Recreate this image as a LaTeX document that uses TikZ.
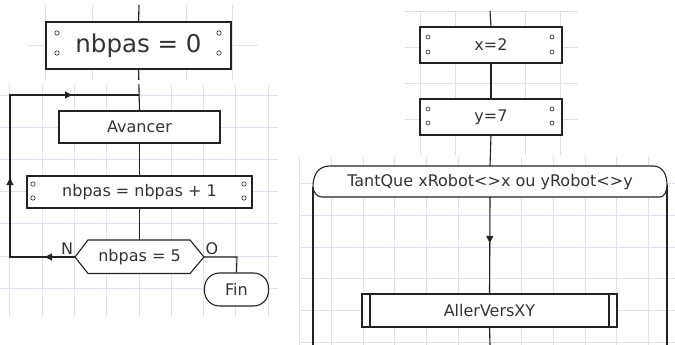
\documentclass[tikz,border=0pt]{standalone}
\usepackage{fontspec}
\setmainfont{DejaVu Sans}
\usetikzlibrary{arrows.meta,decorations.markings}
\definecolor{gridc}{HTML}{E0E0F0}
\definecolor{linec}{HTML}{222222}
\definecolor{txtc}{HTML}{333333}
\tikzset{
  gridline/.style={draw=gridc, line width=0.9pt},
  conn/.style={draw=linec, line width=1.1pt},
  procbox/.style={draw=linec, line width=1.1pt, fill=white, text=txtc, inner sep=0pt, font=\fontsize{16}{19}\selectfont},
  dotc/.style={draw=linec, line width=0.6pt, fill=white},
  lbl/.style={text=txtc, inner sep=0pt, font=\fontsize{16}{19}\selectfont},
  midarrow/.style={postaction={decorate}, decoration={markings, mark=at position #1 with {\arrow{Triangle[length=7pt,width=7pt]}}}}
}
\begin{document}
\begin{tikzpicture}[x=1pt,y=-1pt]
\useasboundingbox (0,0) rectangle (675,345);
\fill[white] (0,0) rectangle (675,345);
% ---- grids
\foreach \x in {45,92,139,186,232} \draw[gridline] (\x,5) -- (\x,80);
\draw[gridline] (28,45) -- (258,45);
\foreach \k in {-4,...,4} \draw[gridline] ({139+32.3*\k},85) -- ({139+32.3*\k},317);
\foreach \k in {0,...,6} \draw[gridline] (0,{95+32.2*\k}) -- (278,{95+32.2*\k});
\foreach \x in {420,455,490,525,560} \draw[gridline] (\x,11) -- (\x,155);
\foreach \y in {11,47,83,119} \draw[gridline] (405,\y) -- (578,\y);
\foreach \k in {0,...,11} \draw[gridline] ({299.8+31.7*\k},157) -- ({299.8+31.7*\k},345);
\foreach \y in {183,215,247,278,310,342} \draw[gridline] (300,\y) -- (675,\y);
% ---- left nodes
\node[procbox, minimum width=185pt, minimum height=47pt, font=\fontsize{24.5}{28}\selectfont] (init) at (138.5,45.5) {nbpas = 0};
\node[procbox, minimum width=161pt, minimum height=32pt] (avancer) at (139.5,127) {Avancer};
\node[procbox, minimum width=225pt, minimum height=32pt] (inc) at (139.5,192) {nbpas = nbpas + 1};
\coordinate (testN) at (139.5,240);
\coordinate (testW) at (75,257);
\coordinate (testE) at (204,257);
\node[procbox, rounded corners=15pt, minimum width=64pt, minimum height=33pt] (fin) at (236.5,289.5) {Fin};
\node[lbl] (labN) at (67,249) {N};
\node[lbl] (labO) at (212,249) {O};
\coordinate (topL) at (139,5);
\coordinate (loopin) at (139,95);
\coordinate (bendO) at (237,257);
% ---- left connectors
\draw[conn] (topL) -- (init.north);
\draw[conn] (init.south) -- (avancer.north);
\fill[white] (0,80.5) rectangle (280,84.5);
\draw[conn] (avancer.south) -- (inc.north);
\draw[conn] (inc.south) -- (testN);
\draw[conn, postaction={decorate}, decoration={markings,
  mark=at position 30pt with {\arrow{Triangle[length=7pt,width=7pt]}},
  mark=at position 144pt with {\arrow{Triangle[length=7pt,width=7pt]}},
  mark=at position 289pt with {\arrow{Triangle[length=7pt,width=7pt]}}}]
  (testW) -- (10,257) -- (10,95) -- (loopin);
\draw[conn] (testE) -- (bendO) -- (fin.north);
\draw[linec, line width=1.1pt, fill=white] (75,257) -- (88,240) -- (190,240) -- (204,257) -- (190,273.5) -- (88,273.5) -- cycle;
\node[lbl] (test) at (139.5,257) {nbpas = 5};
% box dots
\foreach \px/\py in {57/33,57/53,219/33,219/53,33/184,33/198,244/184,244/198}
  \draw[dotc] (\px,\py) circle (2.2pt);
% ---- right nodes
\node[procbox, minimum width=142pt, minimum height=36pt] (xa) at (491,45) {x=2};
\node[procbox, minimum width=142pt, minimum height=36pt] (ya) at (491,117) {y=7};
\coordinate (whileN) at (490,166);
\coordinate (whileS) at (490,197);
\node[procbox, minimum width=255pt, minimum height=33pt] (aller) at (489.5,310.5) {AllerVersXY};
\coordinate (topR) at (490,11);
\coordinate (botR) at (490,345);
% ---- right connectors
\draw[conn] (topR) -- (xa.north);
\draw[conn] (xa.south) -- (ya.north);
\draw[conn] (ya.south) -- (whileN);
\draw[conn, midarrow=46pt] (whileS) -- (aller.north);
\draw[conn] (aller.south) -- (botR);
\draw[conn] (313,187) -- (313,345);
\draw[conn] (667,185) -- (667,345);
\draw[linec, line width=1.1pt, fill=white] (330,166) -- (653,166) .. controls (663,166) and (667,175) .. (667,185) .. controls (667,192) and (664,197) .. (660,197) -- (322,197) .. controls (317,197) and (313,192) .. (313,187) .. controls (313,175) and (318,166) .. (330,166) -- cycle;
\node[lbl] (while) at (490,182) {TantQue xRobot<>x ou yRobot<>y};
\draw[linec, line width=1.1pt] (370,294) -- (370,327) (609,294) -- (609,327);
\foreach \px in {428,552} {\draw[dotc] (\px,37) circle (2pt); \draw[dotc] (\px,52) circle (2pt); \draw[dotc] (\px,109) circle (2pt); \draw[dotc] (\px,123) circle (2pt);}
\end{tikzpicture}
\end{document}
